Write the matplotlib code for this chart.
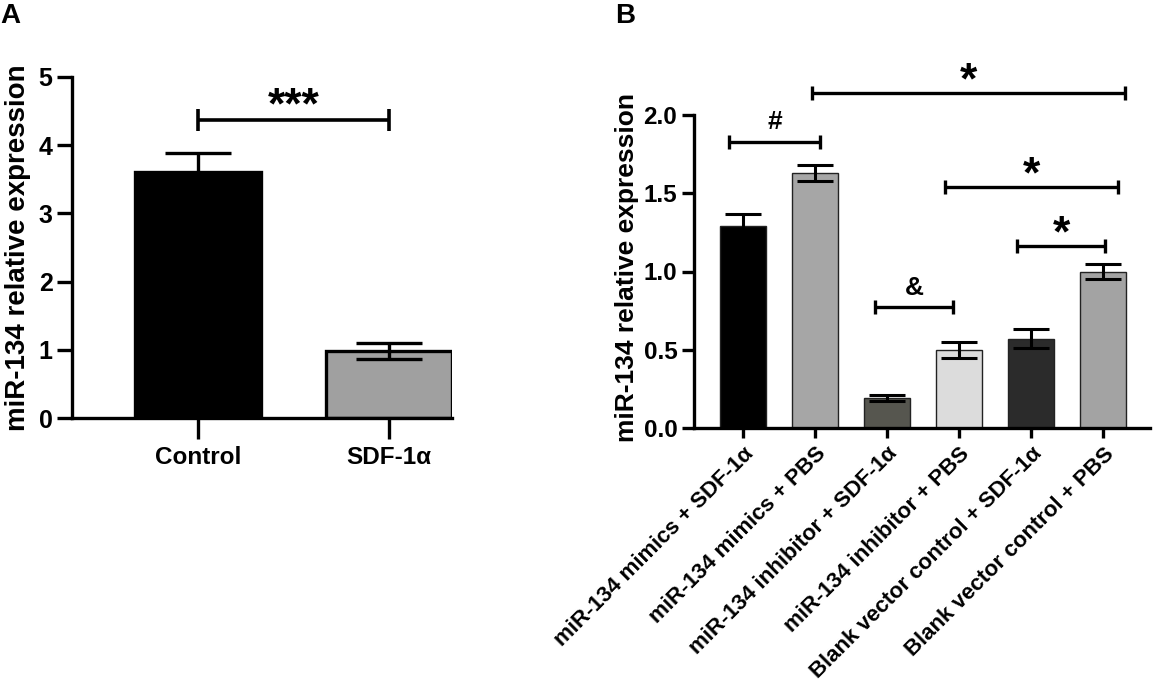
import matplotlib
matplotlib.use('Agg')
import matplotlib.pyplot as plt
import numpy as np

plt.rcParams['font.family'] = ['Liberation Sans', 'DejaVu Sans']
plt.rcParams['font.weight'] = 'bold'

# ---------------- data ----------------
a_categories = ['Control', 'SDF-1α']
a_means = [3.61, 0.98]
a_errors = [0.28, 0.12]
a_colors = ['#000000', '#a0a0a0']
a_yticks = [0, 1, 2, 3, 4, 5]

b_categories = ['miR-134 mimics + SDF-1α', 'miR-134 mimics + PBS',
                'miR-134 inhibitor + SDF-1α', 'miR-134 inhibitor + PBS',
                'Blank vector control + SDF-1α', 'Blank vector control + PBS']
b_means = [1.29, 1.63, 0.19, 0.50, 0.57, 1.00]
b_errors = [0.08, 0.05, 0.02, 0.05, 0.06, 0.05]
b_colors = ['#000000', '#a6a6a6', '#56564f', '#dcdcdc', '#2b2b2b', '#a3a3a3']
b_yticks = [0.0, 0.5, 1.0, 1.5, 2.0]
b_ytick_labels = ['0.0', '0.5', '1.0', '1.5', '2.0']

# significance brackets: (x start, x end, height, label)
a_brackets = [(0.0, 1.0, 4.37, '***')]
b_brackets = [(-0.2, 1.07, 1.83, '#'),
              (0.96, 5.30, 2.14, '*'),
              (2.80, 5.20, 1.54, '*'),
              (3.80, 5.03, 1.16, '*'),
              (1.83, 2.92, 0.77, '&')]

W, H = 1157, 685
fig = plt.figure(figsize=(W / 100, H / 100), dpi=100)


def frac(x0, y0, x1, y1):
    return [x0 / W, 1 - y1 / H, (x1 - x0) / W, (y1 - y0) / H]


def bracket(ax, x1, x2, y, label, lw, cap, sym_size, off):
    ax.plot([x1, x2], [y, y], color='black', lw=lw, clip_on=False,
            solid_capstyle='butt')
    ax.plot([x1, x2], [y, y], ls='none', marker='|', markersize=cap,
            mew=lw, color='black', clip_on=False)
    ax.annotate(label, xy=((x1 + x2) / 2, y), xytext=(0, off),
                textcoords='offset points', ha='center', va='baseline',
                fontsize=sym_size, fontweight='bold', annotation_clip=False)


# ---------------- panel A ----------------
axA = fig.add_axes(frac(72, 77, 452, 418))
xa = np.arange(len(a_categories))
axA.bar(xa, a_means, width=0.66, color=a_colors, edgecolor='black',
        linewidth=2.4, zorder=2)
axA.errorbar(xa, a_means, yerr=a_errors, fmt='none', ecolor='black',
             elinewidth=2.4, capsize=24, capthick=2.4, zorder=3)
axA.set_xlim(-0.66, 1.33)
axA.set_ylim(0, 5)
axA.set_yticks(a_yticks)
axA.set_xticks(xa)
axA.set_xticklabels(a_categories, fontsize=17.5, fontweight='bold')
axA.tick_params(axis='y', labelsize=18, length=11, width=2.4, pad=3)
axA.tick_params(axis='x', length=15, width=2.4, pad=5)
for s in ['top', 'right']:
    axA.spines[s].set_visible(False)
for s in ['left', 'bottom']:
    axA.spines[s].set_linewidth(2.4)
for (x1, x2, y, lab) in a_brackets:
    bracket(axA, x1, x2, y, lab, 2.6, 16, 32, 1)
fig.text(18 / W, 1 - 248 / H, 'miR-134 relative expression', rotation=90,
         ha='center', va='center', fontsize=20, fontweight='bold')
fig.text(0 / W, 1 - 16 / H, 'A', ha='left', va='center', fontsize=20,
         fontweight='bold')

# ---------------- panel B ----------------
axB = fig.add_axes(frac(694, 115, 1150, 428))
xb = np.arange(len(b_categories))
axB.bar(xb, b_means, width=0.64, color=b_colors, edgecolor='#222222',
        linewidth=1.0, zorder=2)
axB.errorbar(xb, b_means, yerr=b_errors, fmt='none', ecolor='black',
             elinewidth=2.2, capsize=13, capthick=2.2, zorder=3)
axB.set_xlim(-0.68, 5.65)
axB.set_ylim(0, 2.0)
axB.set_yticks(b_yticks)
axB.set_yticklabels(b_ytick_labels)
axB.set_xticks(xb)
axB.set_xticklabels(b_categories, fontsize=16, fontweight='bold', rotation=45,
                    ha='right', rotation_mode='anchor')
axB.tick_params(axis='y', labelsize=17.5, length=9, width=2.4, pad=3)
axB.tick_params(axis='x', length=7, width=2.4, pad=4)
for s in ['top', 'right']:
    axB.spines[s].set_visible(False)
for s in ['left', 'bottom']:
    axB.spines[s].set_linewidth(2.4)
for (x1, x2, y, lab) in b_brackets:
    if lab == '*':
        bracket(axB, x1, x2, y, lab, 2.4, 10, 32, 0)
    else:
        bracket(axB, x1, x2, y, lab, 2.4, 10, 19, 9)
fig.text(627 / W, 1 - 268 / H, 'miR-134 relative expression', rotation=90,
         ha='center', va='center', fontsize=19, fontweight='bold')
fig.text(615 / W, 1 - 16 / H, 'B', ha='left', va='center', fontsize=20,
         fontweight='bold')

fig.savefig('out.png', dpi=100)
